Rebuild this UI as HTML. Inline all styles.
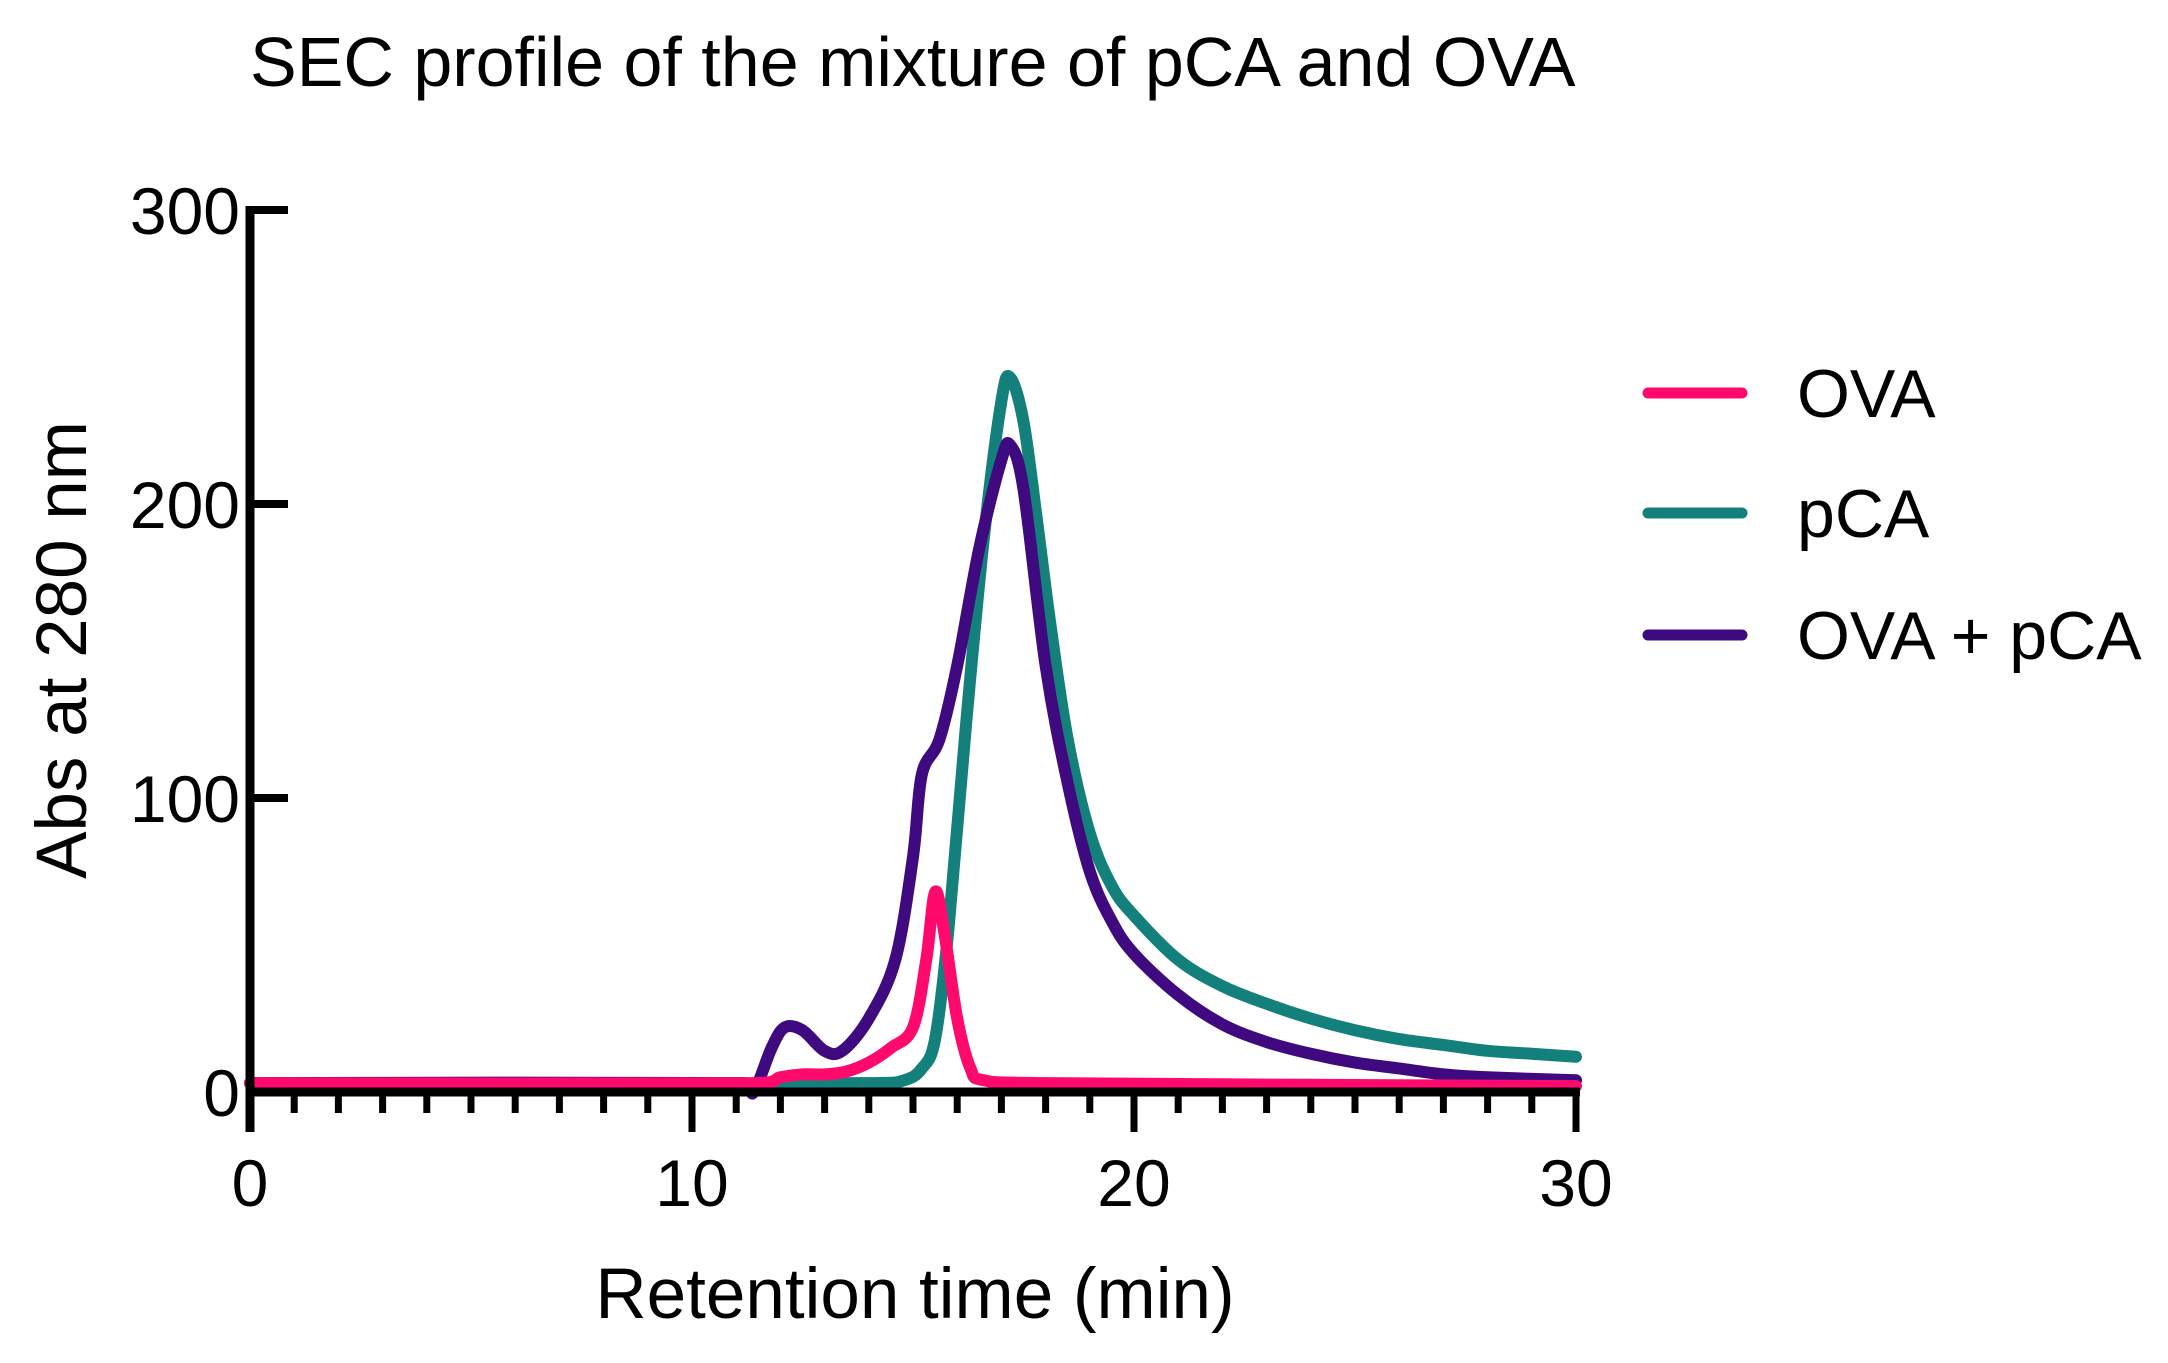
<!DOCTYPE html>
<html><head><meta charset="utf-8"><style>
body{margin:0;background:#fff}
svg text{font-family:"Liberation Sans",Arial,sans-serif;fill:#000}
</style></head><body>
<svg id="s" width="2168" height="1358" xmlns="http://www.w3.org/2000/svg">
<text x="250" y="86" font-size="70">SEC profile of the mixture of pCA and OVA</text>
<g id="curves" fill="none" stroke-width="12" stroke-linejoin="round" stroke-linecap="round"></g>
<g stroke="#000" fill="none">
<line x1="250" y1="206" x2="250" y2="1132" stroke-width="9"/>
<line x1="246" y1="1092" x2="1580" y2="1092" stroke-width="9"/>
<g id="yt" stroke-width="8"></g>
<g id="xt" stroke-width="7"></g>
</g>
<g font-size="66" text-anchor="end">
<text x="240" y="234">300</text>
<text x="240" y="528">200</text>
<text x="240" y="822">100</text>
<text x="240" y="1116">0</text>
</g>
<g font-size="66" text-anchor="middle">
<text x="250" y="1206">0</text>
<text x="692" y="1206">10</text>
<text x="1134" y="1206">20</text>
<text x="1576" y="1206">30</text>
</g>
<g font-size="71" text-anchor="middle">
<text x="915" y="1318">Retention time (min)</text>
<text transform="translate(86,650) rotate(-90)">Abs at 280 nm</text>
</g>
<g stroke-width="11" stroke-linecap="round">
<line x1="1648" y1="393" x2="1742" y2="393" stroke="#ff0a6c"/>
<line x1="1648" y1="513" x2="1742" y2="513" stroke="#13807c"/>
<line x1="1648" y1="635" x2="1742" y2="635" stroke="#3f0a80"/>
</g>
<g font-size="68">
<text x="1797" y="417">OVA</text>
<text x="1797" y="537">pCA</text>
<text x="1797" y="659">OVA + pCA</text>
</g>
</svg>
<script>
var X=m=>250+m*44.2, Y=v=>1092-v*2.94;
var ns="http://www.w3.org/2000/svg";
var yt=document.getElementById('yt');
[0,100,200,300].forEach(v=>{var l=document.createElementNS(ns,'line');l.setAttribute('x1',246);l.setAttribute('x2',288);l.setAttribute('y1',Y(v));l.setAttribute('y2',Y(v));yt.appendChild(l);});
var xt=document.getElementById('xt');
for(var i=1;i<=30;i++){var l=document.createElementNS(ns,'line');l.setAttribute('x1',X(i));l.setAttribute('x2',X(i));l.setAttribute('y1',1092);l.setAttribute('y2',i%10==0?1132:1113);xt.appendChild(l);}
var pca=[[0,3],[14,3],[14.8,4],[15.2,8],[15.5,18],[15.8,55],[16.2,125],[16.6,188],[17,235],[17.2,243],[17.5,228],[17.8,195],[18.1,160],[18.5,120],[19,88],[19.5,70],[20,60],[21,45],[22,36],[23,30],[24,25],[25,21],[26,18],[27,16],[28,14],[29,13],[30,12]];
var ova=[[0,3],[11.5,3],[12,5],[12.5,6],[13,6],[13.5,7],[14,10],[14.5,15],[15,22],[15.3,45],[15.5,68],[15.7,55],[16,25],[16.3,8],[16.6,4],[18,3],[30,2]];
var mix=[[0,3],[11.2,3],[11.4,0],[11.8,15],[12.1,22],[12.5,21],[13,14],[13.4,14],[14,25],[14.6,45],[15,80],[15.2,108],[15.6,120],[16,145],[16.5,185],[17,215],[17.2,220],[17.5,205],[18,145],[18.5,105],[19,75],[19.5,58],[20,47],[21,33],[22,23],[23,17],[24,13],[25,10],[26,8],[27,6],[28,5],[30,4]];
function path(d){var P=d.map(q=>[X(q[0]),Y(q[1])]);var s='M'+P[0];for(var i=0;i<P.length-1;i++){var p0=P[Math.max(0,i-1)],p1=P[i],p2=P[i+1],p3=P[Math.min(P.length-1,i+2)];var t=0.5/3;var c1=[p1[0]+(p2[0]-p0[0])*t/1,p1[1]+(p2[1]-p0[1])*t];var c2=[p2[0]-(p3[0]-p1[0])*t,p2[1]-(p3[1]-p1[1])*t];
c1[0]=Math.min(Math.max(c1[0],p1[0]),p2[0]);c2[0]=Math.min(Math.max(c2[0],p1[0]),p2[0]);
s+=' C'+c1+' '+c2+' '+p2;}return s;}
var g=document.getElementById('curves');
[[pca,'#13807c'],[mix,'#3f0a80'],[ova,'#ff0a6c']].forEach(function(d){
var p=document.createElementNS(ns,'path');
p.setAttribute('d',path(d[0]));
p.setAttribute('stroke',d[1]);g.appendChild(p);});
</script>
</body></html>
